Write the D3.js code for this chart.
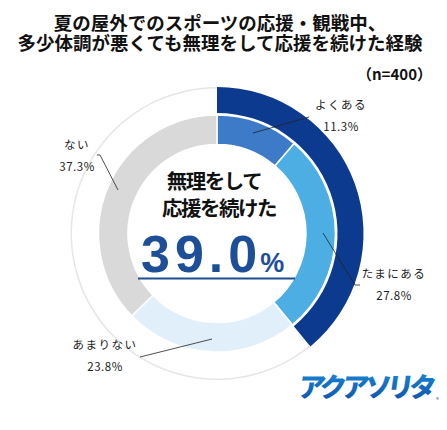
<!DOCTYPE html>
<html>
<head>
<meta charset="utf-8">
<script src="https://cdn.jsdelivr.net/npm/d3@7"></script>
<style>
  body { margin: 0; background: #fff; }
  text { font-family: "Noto Sans CJK JP", "Noto Sans", sans-serif; }
</style>
</head>
<body>
<div id="graph_here"></div>
<script>
// answers to the question (inner ring)
const categories = ["よくある", "たまにある", "あまりない", "ない"];
const values = [11.3, 27.8, 23.8, 37.3];
const colors = ["#3d7bc8", "#4caee3", "#e1effa", "#d9d9d9"];
// outer ring: "無理をして応援を続けた" vs rest
const outerLabels = ["続けた", "その他"];
const outerValues = [39.0, 61.0];
const titleLines = ["夏の屋外でのスポーツの応援・観戦中、", "多少体調が悪くても無理をして応援を続けた経験"];
const sampleText = "（n=400）";
const centerLines = ["無理をして", "応援を続けた"];

function drawdonut(){
    const width = 447;
    const height = 430;
    const cx = 217, cy = 233.5;

    var svg = d3.select('#graph_here')
        .append('svg')
        .attr("width", width)
        .attr("height", height);

    // title, one text element wrapped in two lines
    svg.append("text")
        .attr("text-anchor", "middle")
        .style("font-size", "18.5px")
        .style("font-weight", "bold")
        .style("fill", "#111")
        .selectAll("tspan")
        .data(titleLines)
        .enter()
        .append("tspan")
        .attr("x", 220)
        .attr("y", (d, i) => 30 + i * 20)
        .text(d => d);

    svg.append("text")
        .attr("x", 432)
        .attr("y", 80)
        .attr("text-anchor", "end")
        .style("font-size", "15px")
        .style("font-weight", "bold")
        .style("fill", "#111")
        .text(sampleText);

    const g = svg.append("g").attr("transform", "translate(" + cx + "," + cy + ")");

    const pie = d3.pie().sort(null).value(d => d);

    // outer ring
    const outerArcs = pie(outerValues);
    const outerArc = d3.arc().innerRadius(120.5).outerRadius(146.5);
    const thinArc = d3.arc().innerRadius(145).outerRadius(146.5);
    g.selectAll(".outer")
        .data(outerArcs)
        .enter()
        .append("path")
        .attr("d", (d, i) => i === 0 ? outerArc(d) : thinArc(d))
        .attr("fill", (d, i) => i === 0 ? "#0c3a8e" : "#e6e6e6");

    // inner ring
    const innerArcs = pie(values);
    const innerArc = d3.arc().innerRadius(89).outerRadius(118.5);
    g.selectAll(".inner")
        .data(innerArcs)
        .enter()
        .append("path")
        .attr("d", innerArc)
        .attr("fill", (d, i) => colors[i])
        .attr("stroke", "#fff")
        .attr("stroke-width", 1.5);

    // center text
    g.append("text")
        .attr("text-anchor", "middle")
        .style("font-size", "20.5px")
        .style("font-weight", "bold")
        .style("letter-spacing", "-1.5px")
        .style("fill", "#111")
        .selectAll("tspan")
        .data(centerLines)
        .enter()
        .append("tspan")
        .attr("x", (d, i) => i === 0 ? -3 : 2)
        .attr("y", (d, i) => -45 + i * 27)
        .text(d => d);

    const big = g.append("text")
        .attr("x", -76)
        .attr("y", 38)
        .style("font-family", "'Liberation Sans', Arial, sans-serif")
        .style("font-weight", "bold")
        .style("fill", "#1d4f99");
    big.append("tspan")
        .style("font-size", "52px")
        .style("letter-spacing", "5px")
        .text(d3.format(".1f")(outerValues[0]));
    big.append("tspan")
        .attr("dx", "-2")
        .style("font-size", "27px")
        .text("%");

    g.append("line")
        .attr("x1", -79).attr("x2", 78)
        .attr("y1", 45).attr("y2", 45)
        .attr("stroke", "#1d4f8f")
        .attr("stroke-width", 2);

    // labels with leader lines (placed per slice)
    const labelPos = [
        {lx: 341, ly: 109, line: [[253, 133], [309, 117]]},
        {lx: 394, ly: 278, line: [[323, 233], [355, 285], [360, 285]]},
        {lx: 105, ly: 349, line: [[212, 339], [140, 357]]},
        {lx: 77, ly: 149, line: [[118, 190], [100, 155], [97, 155]]}
    ];
    const lineGen = d3.line();
    const labels = svg.selectAll(".lab")
        .data(innerArcs)
        .enter()
        .append("g");
    labels.append("path")
        .attr("d", (d, i) => lineGen(labelPos[i].line))
        .attr("fill", "none")
        .attr("stroke", "#222")
        .attr("stroke-width", 0.8);
    labels.append("text")
        .attr("x", (d, i) => labelPos[i].lx)
        .attr("y", (d, i) => labelPos[i].ly)
        .attr("text-anchor", "middle")
        .style("font-size", "11.5px")
        .style("letter-spacing", "1.5px")
        .style("fill", "#222")
        .text((d, i) => categories[i]);
    labels.append("text")
        .attr("x", (d, i) => labelPos[i].lx)
        .attr("y", (d, i) => labelPos[i].ly + 22)
        .attr("text-anchor", "middle")
        .style("font-size", "11.5px")
        .style("letter-spacing", "0.5px")
        .style("fill", "#222")
        .text(d => d3.format(".1f")(d.data) + "%");

    // brand logo
    const defs = svg.append("defs");
    const grad = defs.append("linearGradient")
        .attr("id", "logoGrad")
        .attr("x1", "0").attr("y1", "0").attr("x2", "0").attr("y2", "1");
    grad.append("stop").attr("offset", "0").attr("stop-color", "#1a8fd9");
    grad.append("stop").attr("offset", "1").attr("stop-color", "#0d4fa8");
    svg.append("text")
        .attr("transform", "translate(297,397) skewX(-8)")
        .style("font-size", "27px")
        .style("font-weight", "900")
        .style("letter-spacing", "-4.5px")
        .style("fill", "url(#logoGrad)")
        .text("アクアソリタ");
    svg.append("text")
        .attr("x", 436)
        .attr("y", 402)
        .style("font-size", "6px")
        .style("fill", "#1a5fb0")
        .text("®");
}

window.addEventListener('load', drawdonut);
</script>
</body>
</html>
